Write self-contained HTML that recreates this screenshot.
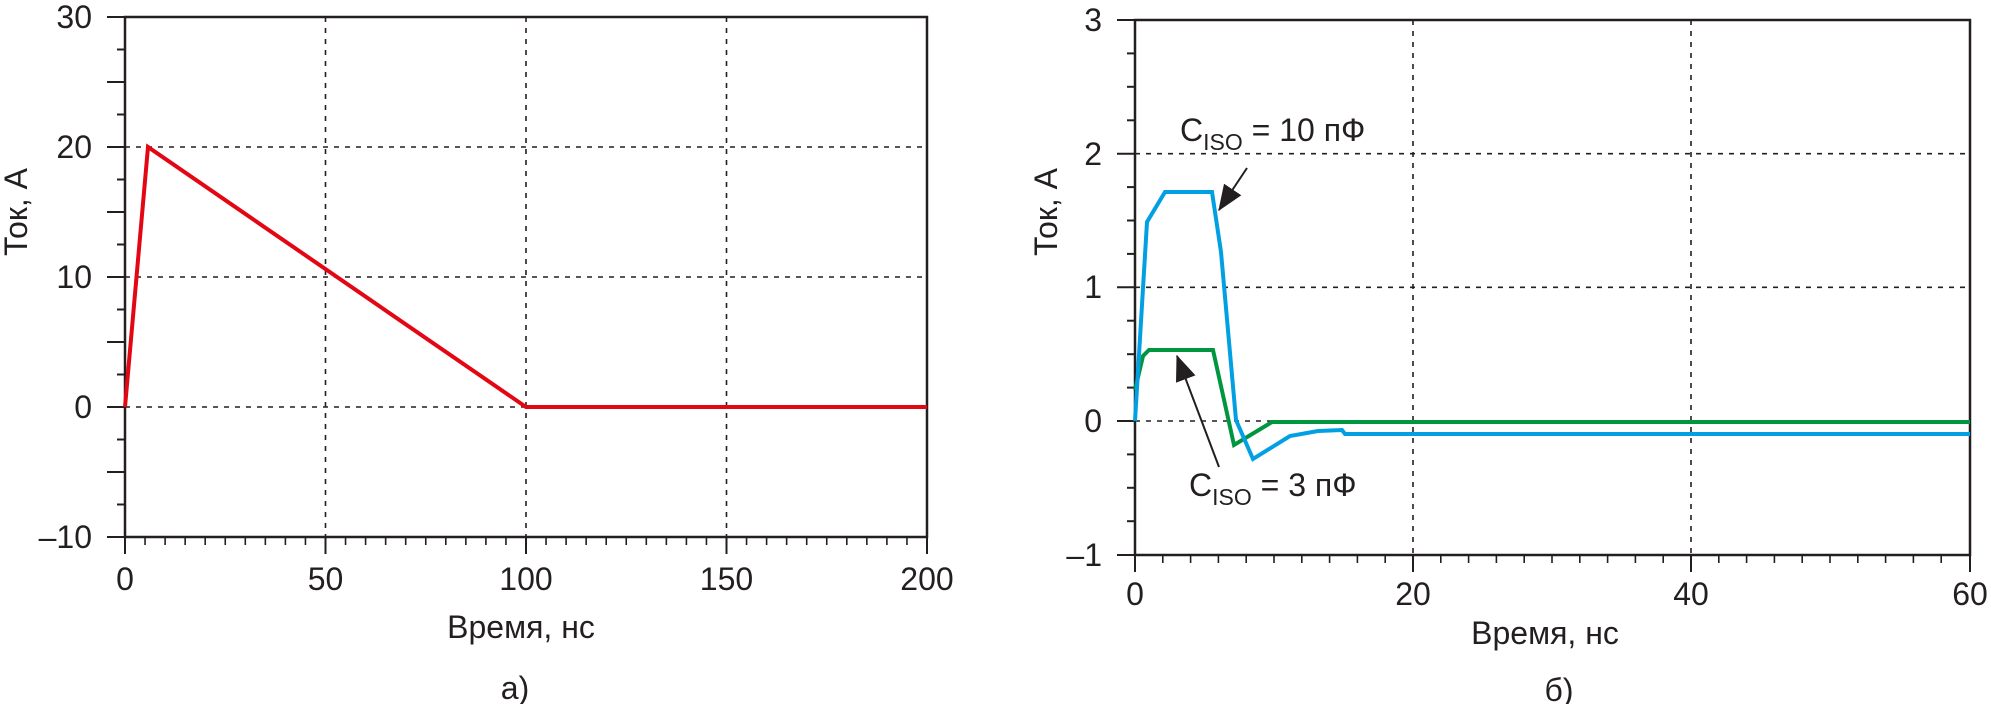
<!DOCTYPE html>
<html><head><meta charset="utf-8"><style>
html,body{margin:0;padding:0;background:#fff}
svg{display:block}
text{font-family:"Liberation Sans",Arial,sans-serif;fill:#231f20}
</style></head><body>
<svg width="1991" height="704" viewBox="0 0 1991 704" xmlns="http://www.w3.org/2000/svg">
<defs>
<marker id="ah" viewBox="0 0 10 8" refX="9.5" refY="4" markerWidth="26" markerHeight="21" orient="auto" markerUnits="userSpaceOnUse"><path d="M0,0 L10,4 L0,8 z" fill="#231f20"/></marker>
</defs>
<!-- LEFT PANEL -->
<g stroke="#231f20" stroke-width="1.6" stroke-dasharray="5,6" fill="none">
<line x1="125" y1="147" x2="927" y2="147"/>
<line x1="125" y1="277" x2="927" y2="277"/>
<line x1="125" y1="407" x2="927" y2="407"/>
<line x1="325.5" y1="17" x2="325.5" y2="537"/>
<line x1="526" y1="17" x2="526" y2="537"/>
<line x1="726.5" y1="17" x2="726.5" y2="537"/>
</g>
<rect x="125" y="17" width="802" height="520" fill="none" stroke="#231f20" stroke-width="2.5"/>
<g stroke="#231f20" stroke-width="2">
<line x1="107" y1="17" x2="125" y2="17"/><line x1="117" y1="49.5" x2="125" y2="49.5"/><line x1="107" y1="82" x2="125" y2="82"/><line x1="117" y1="114.5" x2="125" y2="114.5"/>
<line x1="107" y1="147" x2="125" y2="147"/><line x1="117" y1="179.5" x2="125" y2="179.5"/><line x1="107" y1="212" x2="125" y2="212"/><line x1="117" y1="244.5" x2="125" y2="244.5"/>
<line x1="107" y1="277" x2="125" y2="277"/><line x1="117" y1="309.5" x2="125" y2="309.5"/><line x1="107" y1="342" x2="125" y2="342"/><line x1="117" y1="374.5" x2="125" y2="374.5"/>
<line x1="107" y1="407" x2="125" y2="407"/><line x1="117" y1="439.5" x2="125" y2="439.5"/><line x1="107" y1="472" x2="125" y2="472"/><line x1="117" y1="504.5" x2="125" y2="504.5"/>
<line x1="107" y1="537" x2="125" y2="537"/>
<line x1="125" y1="537" x2="125" y2="554"/><line x1="325.5" y1="537" x2="325.5" y2="554"/><line x1="526" y1="537" x2="526" y2="554"/><line x1="726.5" y1="537" x2="726.5" y2="554"/><line x1="927" y1="537" x2="927" y2="554"/>
</g>
<path d="M125,537 m20.05,0 v8 m20.05,-8 v8 m20.05,-8 v8 m20.05,-8 v8 m20.05,-8 v8 m20.05,-8 v8 m20.05,-8 v8 m20.05,-8 v8 m20.05,-8 v8 m20.05,-8 v0 m20.05,0 v8 m20.05,-8 v8 m20.05,-8 v8 m20.05,-8 v8 m20.05,-8 v8 m20.05,-8 v8 m20.05,-8 v8 m20.05,-8 v8 m20.05,-8 v8 m20.05,-8 v0 m20.05,0 v8 m20.05,-8 v8 m20.05,-8 v8 m20.05,-8 v8 m20.05,-8 v8 m20.05,-8 v8 m20.05,-8 v8 m20.05,-8 v8 m20.05,-8 v8 m20.05,-8 v0 m20.05,0 v8 m20.05,-8 v8 m20.05,-8 v8 m20.05,-8 v8 m20.05,-8 v8 m20.05,-8 v8 m20.05,-8 v8 m20.05,-8 v8 m20.05,-8 v8" stroke="#231f20" stroke-width="1.6" fill="none"/>
<polyline points="125,407 148,147 526,407 927,407" fill="none" stroke="#e30613" stroke-width="4"/>
<g font-size="32" text-anchor="end">
<text x="92" y="28">30</text><text x="92" y="158">20</text><text x="92" y="288">10</text><text x="92" y="418">0</text><text x="92" y="548">–10</text>
</g>
<g font-size="32" text-anchor="middle">
<text x="125" y="590">0</text><text x="325.5" y="590">50</text><text x="526" y="590">100</text><text x="726.5" y="590">150</text><text x="927" y="590">200</text>
<text x="521" y="638">Время, нс</text>
<text x="515" y="699">а)</text>
<text transform="translate(27,212) rotate(-90)">Ток, А</text>
</g>
<!-- RIGHT PANEL -->
<g stroke="#231f20" stroke-width="1.6" stroke-dasharray="5,6" fill="none">
<line x1="1135" y1="153.7" x2="1970" y2="153.7"/>
<line x1="1135" y1="287.3" x2="1970" y2="287.3"/>
<line x1="1135" y1="421" x2="1970" y2="421"/>
<line x1="1413" y1="20" x2="1413" y2="555"/>
<line x1="1691" y1="20" x2="1691" y2="555"/>
</g>
<rect x="1135" y="20" width="835" height="535" fill="none" stroke="#231f20" stroke-width="2.5"/>
<g stroke="#231f20" stroke-width="2">
<line x1="1117" y1="20" x2="1135" y2="20"/><line x1="1127" y1="53.4" x2="1135" y2="53.4"/><line x1="1127" y1="86.8" x2="1135" y2="86.8"/><line x1="1127" y1="120.3" x2="1135" y2="120.3"/>
<line x1="1117" y1="153.7" x2="1135" y2="153.7"/><line x1="1127" y1="187.1" x2="1135" y2="187.1"/><line x1="1127" y1="220.5" x2="1135" y2="220.5"/><line x1="1127" y1="253.9" x2="1135" y2="253.9"/>
<line x1="1117" y1="287.3" x2="1135" y2="287.3"/><line x1="1127" y1="320.7" x2="1135" y2="320.7"/><line x1="1127" y1="354.2" x2="1135" y2="354.2"/><line x1="1127" y1="387.6" x2="1135" y2="387.6"/>
<line x1="1117" y1="421" x2="1135" y2="421"/><line x1="1127" y1="454.4" x2="1135" y2="454.4"/><line x1="1127" y1="487.8" x2="1135" y2="487.8"/><line x1="1127" y1="521.2" x2="1135" y2="521.2"/>
<line x1="1117" y1="555" x2="1135" y2="555"/>
<line x1="1135" y1="555" x2="1135" y2="572"/><line x1="1413" y1="555" x2="1413" y2="572"/><line x1="1691" y1="555" x2="1691" y2="572"/><line x1="1970" y1="555" x2="1970" y2="572"/>
</g>
<path d="M1135,555 m27.8,0 v8 m27.8,-8 v8 m27.8,-8 v8 m27.8,-8 v8 m27.8,-8 v8 m27.8,-8 v8 m27.8,-8 v8 m27.8,-8 v8 m27.8,-8 v8 m27.8,-8 v0 m27.8,0 v8 m27.8,-8 v8 m27.8,-8 v8 m27.8,-8 v8 m27.8,-8 v8 m27.8,-8 v8 m27.8,-8 v8 m27.8,-8 v8 m27.8,-8 v8 m27.8,-8 v0 m27.8,0 v8 m27.8,-8 v8 m27.8,-8 v8 m27.8,-8 v8 m27.8,-8 v8 m27.8,-8 v8 m27.8,-8 v8 m27.8,-8 v8 m27.8,-8 v8" stroke="#231f20" stroke-width="1.6" fill="none"/>
<polyline points="1135,390 1143,356 1149,350 1213,350 1234,445 1272,422 1970,422" fill="none" stroke="#009640" stroke-width="4"/>
<polyline points="1135,421 1147,222 1165,192 1212,192 1221,252 1236,420 1253,459 1290,436 1318,431 1342,430 1345,434 1970,434" fill="none" stroke="#00a0e3" stroke-width="4"/>
<line x1="1247" y1="168" x2="1219" y2="210" stroke="#231f20" stroke-width="2" marker-end="url(#ah)"/>
<line x1="1219" y1="467" x2="1177" y2="356" stroke="#231f20" stroke-width="2" marker-end="url(#ah)"/>
<text x="1180" y="141" font-size="32">C<tspan font-size="23" dy="9">ISO</tspan><tspan dy="-9"> = 10 пФ</tspan></text>
<text x="1189" y="496" font-size="32">C<tspan font-size="23" dy="9">ISO</tspan><tspan dy="-9"> = 3 пФ</tspan></text>
<g font-size="32" text-anchor="end">
<text x="1102" y="31">3</text><text x="1102" y="165">2</text><text x="1102" y="298">1</text><text x="1102" y="432">0</text><text x="1102" y="566">–1</text>
</g>
<g font-size="32" text-anchor="middle">
<text x="1135" y="605">0</text><text x="1413" y="605">20</text><text x="1691" y="605">40</text><text x="1970" y="605">60</text>
<text x="1545" y="644">Время, нс</text>
<text x="1559" y="701">б)</text>
<text transform="translate(1057,212) rotate(-90)">Ток, А</text>
</g>
</svg>
</body></html>
